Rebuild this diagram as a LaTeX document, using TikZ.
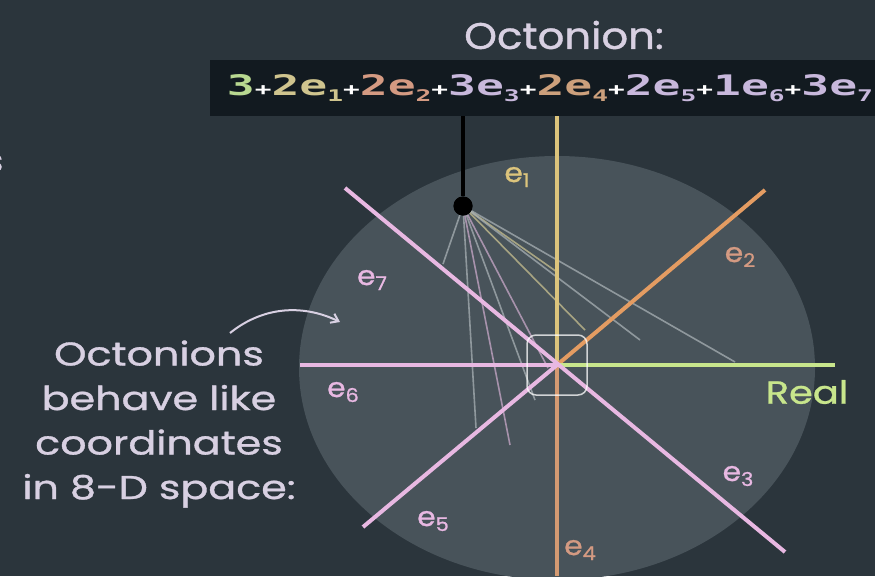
\documentclass[tikz,border=0pt]{standalone}
\usepackage{fontspec}
\setmainfont{Poppins}[FakeBold=0.9]
\newfontfamily\monof{DejaVu Sans Mono Bold}
\usetikzlibrary{arrows.meta}
\definecolor{bg}{HTML}{2B353C}
\definecolor{disk}{HTML}{48535A}
\definecolor{boxc}{HTML}{121A20}
\definecolor{txt}{HTML}{D8D0E2}
\definecolor{cone}{HTML}{DCC47C}
\definecolor{cfour}{HTML}{D49A72}
\definecolor{ctwo}{HTML}{E49C62}
\definecolor{creal}{HTML}{C8E68C}
\definecolor{cpink}{HTML}{E8B8E2}
\definecolor{fgrey}{HTML}{A8B0B4}
\definecolor{fyel}{HTML}{C8C090}
\definecolor{fpink}{HTML}{C8A8C8}
\definecolor{tgreen}{HTML}{B8D890}
\definecolor{tyel}{HTML}{CFC48E}
\definecolor{tsal}{HTML}{D49A82}
\definecolor{tlav}{HTML}{C8B8DC}
\definecolor{tbrn}{HTML}{CCA07C}
\newcommand{\osub}[1]{\raisebox{-6pt}{\fontsize{17}{17}\selectfont #1}}
\newcommand{\opl}{\textcolor{white}{\fontsize{18}{18}\selectfont +}}
\newcommand{\oterm}[3]{\textcolor{#1}{#2e\osub{#3}}}
\newcommand{\elab}[1]{e\raisebox{-5pt}{\fontsize{19}{19}\selectfont #1}}
\tikzset{
  axis/.style={line width=4pt},
  fan/.style={line width=1.6pt, opacity=0.75},
  lab/.style={font=\fontsize{27}{27}\selectfont, inner sep=0pt, xscale=1.1, transform shape},
}
\begin{document}
\begin{tikzpicture}[x=1pt,y=-1pt]
\useasboundingbox (0,0) rectangle (875,576);
\fill[bg] (0,0) rectangle (875,576);
\fill[disk] (557,368) ellipse [x radius=258, y radius=212];

% title and formula
\node[text=txt, font=\fontsize{37}{37}\selectfont, inner sep=0pt, xscale=1.13, transform shape] (title) at (564,35) {Octonion:};
\node[fill=boxc, minimum width=680pt, minimum height=56pt, inner sep=0pt] (formula) at (550,88)
  {\resizebox{646pt}{21pt}{\monof\fontsize{30}{30}\selectfont
   \textcolor{tgreen}{3}\opl\oterm{tyel}{2}{1}\opl\oterm{tsal}{2}{2}\opl\oterm{tlav}{3}{3}\opl\oterm{tbrn}{2}{4}\opl\oterm{tlav}{2}{5}\opl\oterm{tlav}{1}{6}\opl\oterm{tlav}{3}{7}}};

% axes
\coordinate (O) at (557,365);
\coordinate (pe1) at (557,116);
\coordinate (pe4) at (557,576);
\coordinate (pe2) at (765,190);
\coordinate (pe5) at (363,527);
\coordinate (pe7) at (345,188);
\coordinate (pe3) at (785,552);
\coordinate (pe6) at (300,365);
\coordinate (pre) at (835,365);

% fan from dot
\node[circle, fill=black, minimum size=19pt, inner sep=0pt] (dot) at (463,206) {};
\coordinate (f1) at (443,264);
\coordinate (f2) at (476,428);
\coordinate (f3) at (510,445);
\coordinate (f4) at (535,400);
\coordinate (f5) at (548,368);
\coordinate (f6) at (557,272);
\coordinate (f7) at (585,330);
\coordinate (f8) at (640,340);
\coordinate (f9) at (735,362);
\draw[fan, fgrey] (dot) -- (f1);
\draw[fan, fgrey] (dot) -- (f2);
\draw[fan, fpink] (dot) -- (f3);
\draw[fan, fgrey] (dot) -- (f4);
\draw[fan, fpink] (dot) -- (f5);
\draw[fan, fyel] (dot) -- (f6);
\draw[fan, fyel] (dot) -- (f7);
\draw[fan, fgrey] (dot) -- (f8);
\draw[fan, fgrey] (dot) -- (f9);

\draw[axis, cone] (pe1) -- (O);
\draw[axis, cfour] (O) -- (pe4);
\draw[axis, ctwo] (O) -- (pe2);
\draw[axis, creal] (O) -- (pre);
\draw[axis, cpink] (pe6) -- (O);
\draw[axis, cpink] (O) -- (pe5);
\draw[axis, cpink] (pe7) -- (pe3);

\draw[white, opacity=0.75, line width=1.5pt, rounded corners=9pt] (527,335) rectangle (587,395);

\draw[line width=4pt, black] (formula.south -| dot) -- (dot);
\node[circle, fill=black, minimum size=19pt, inner sep=0pt] at (dot) {};

% labels
\node[lab, text=cone] (l1) at (517,177) {\elab{1}};
\node[lab, text=tsal] (l2) at (740,257) {\elab{2}};
\node[lab, text=cpink] (l3) at (738,476) {\elab{3}};
\node[lab, text=tsal] (l4) at (580,550) {\elab{4}};
\node[lab, text=cpink] (l5) at (433,521) {\elab{5}};
\node[lab, text=cpink] (l6) at (343,392) {\elab{6}};
\node[lab, text=cpink] (l7) at (372,280) {\elab{7}};
\node[text=creal, font=\fontsize{32}{32}\selectfont, inner sep=0pt, xscale=1.2, transform shape] (lreal) at (807,392) {Real};

% left text
\node[text=txt, align=center, font=\fontsize{33}{44.5}\selectfont, inner sep=0pt, xscale=1.25, transform shape] (left) at (159,424)
  {Octonions\\behave like\\coordinates\\in 8-D space:};
\node[text=txt, font=\fontsize{31}{31}\selectfont, inner sep=0pt] (frag) at (-5,163) {s};
\coordinate (a1) at (230,333);
\coordinate (a2) at (340,322);
\draw[txt, line width=2pt, -{Straight Barb[length=7pt, width=10pt]}] (a1) .. controls (265,305) and (305,305) .. (a2);
\end{tikzpicture}
\end{document}
